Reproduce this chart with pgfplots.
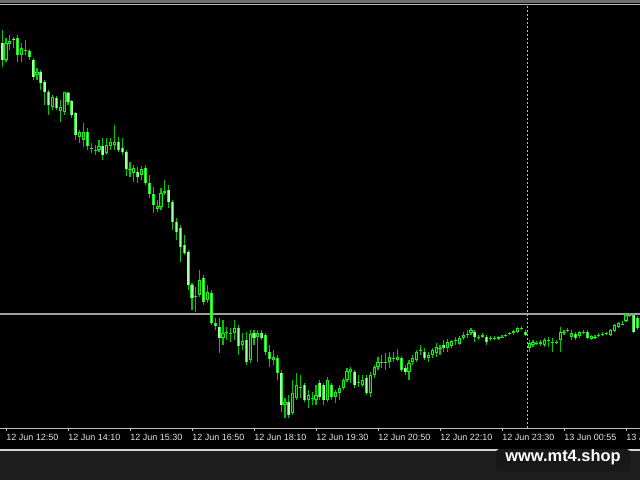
\documentclass[border=0pt]{standalone}
\usepackage{pgfplots}
\pgfplotsset{compat=1.18}
\usepackage{pgfplotstable}
\usepackage{fontspec}
\setmainfont{Liberation Sans}
\definecolor{wick}{RGB}{0,200,0}
\definecolor{limeg}{RGB}{20,240,20}
\definecolor{bearfill}{RGB}{165,255,165}
\definecolor{bullin}{RGB}{0,60,0}
\definecolor{panel}{RGB}{30,30,30}
\definecolor{topgrey}{RGB}{110,110,110}
\definecolor{lgrey}{RGB}{190,190,190}
\definecolor{lline}{RGB}{212,212,212}
\definecolor{boxc}{RGB}{24,24,24}
\definecolor{pline}{RGB}{160,160,160}

% i = 5-minute bar index (0 = 12 Jun 12:50); o,h,l,c in pixel rows of the screenshot (smaller = higher)
\pgfplotstableread{
i o h l c
-1 43 30 67 60
0 60 38 62 43
1 44 35 50 41
2 39 37 48 40
3 38 35 62 55
4 55 43 62 48
5 50 40 55 50.5
6 51 49 60 57
7 60 58 80 77
8 75 68 80 72
9 72 70 90 83
10 82 80 105 92
11 92 90 115 105
12 107 95 110 97
13 98 96 110 108
14 111 100 122 107
15 112 92 115 92
16 93 92 105 102
17 101 100 118 115
18 113 112 140 135
19 137 130 143 132
20 140 123 147 132
21 132 128 150 146
22 148 143 153 148.5
23 150 145 155 150.5
24 150 140 152 146
25 146 138 160 155
26 153 138 155 145
27 146 138 150 142
28 145 125 150 142
29 142 137 152 150
30 148 138 155 152
31 152 150 176 169
32 169 162 177 169.5
33 173 165 182 168
34 172 167 183 177
35 175 166 180 169
36 168 165 185 183
37 183 175 198 194
38 194 187 213 205
39 209 200 212 206
40 207 188 210 193
41 193 180 195 191
42 190 185 208 202
43 202 200 230 222
44 222 218 240 232
45 228 225 262 247
46 245 235 255 253
47 252 250 290 285
48 285 283 310 298
49 296 287 312 296.5
50 295 270 297 280
51 278 275 305 302
52 300 285 303 292
53 293 290 325 323
54 323 318 330 326
55 327 318 353 338
56 338 320 345 333
57 332 327 340 332.5
58 333 328 342 333.5
59 333 320 340 328
60 328 325 355 346
61 345 333 350 341
62 340 332 365 362
63 360 330 363 334
64 333 330 345 338
65 337 330 362 333
66 333 330 340 338
67 335 333 355 352
68 352 345 367 359
69 360 350 365 357
70 358 355 380 373
71 373 370 412 405
72 405 398 418 402
73 402 395 418 415
74 413 380 415 393
75 398 373 400 385
76 387 375 398 387.5
77 385 383 402 400
78 400 390 408 395
79 398 392 405 398.5
80 400 385 405 395
81 383 380 400 397
82 385 383 405 400
83 400 377 402 380
84 385 383 400 397
85 397 390 403 392
86 393 385 400 388
87 388 378 390 380
88 380 368 382 371
89 372 367 383 369
90 372 370 388 385
91 382 375 387 382.5
92 385 375 387 380
93 378 375 395 393
94 393 372 397 375
95 375 365 378 367
96 367 357 370 362
97 362 355 368 362.5
98 362 353 370 362.5
99 362 352 368 357
100 358 352 362 358.5
101 360 349 361 357
102 358 356 372 370
103 368 365 375 372
104 372 360 380 363
105 362 355 365 358
106 360 350 362 352
107 350 345 355 350.5
108 352 348 360 358
109 358 352 362 355
110 355 348 358 350
111 353 343 357 347
112 348 345 355 348.5
113 345 340 352 348
114 348 339 352 342
115 346 340 348 341
116 340 337 345 340.5
117 344 336 345 338
118 338 332 340 335
119 334 330 338 334.5
120 333 328 335 330
121 332 330 342 337
122 337 335 340 337.5
123 337 333 338 335
124 337 335 345 342
125 338 336 341 338.5
126 338 336 340 338.5
127 339 336 340 337
128 337 335 338 337.5
129 335.5 334 337 335
130 333.5 332 335 333
131 333 330 335 331
132 332 327 333 328
133 328 326 330 328.5
134 332 330 336 335
135 348 340 352 343
136 345 340 347 342
137 343 341 345 343.5
138 344 340 346 342
139 345 338 347 340
140 340 337 347 340.5
141 342 338 352 342.5
142 342 340 344 342.5
143 340 327 352 332
144 332 330 335 332.5
145 330 328 332 330.5
146 337 330 340 333
147 334 332 340 338
148 336 331 338 332
149 332 330 334 332.5
150 332 330 339 338
151 339 335 340 336
152 337.5 335 339 337
153 335 333 337 335.5
154 334 332 336 334.5
155 333.5 332 335 333
156 335 329 336 330
157 331 324 332 325
158 327 322 328 323
159 324 321 325 323.5
160 321 314 322 315
161 315.5 313 317 315
162 315 313 333 332
163 318 316 330 328
}\candles

\begin{document}
\begin{tikzpicture}[x=1pt,y=1pt]
\useasboundingbox (0,-26) rectangle (320,214);
\clip (0,-26) rectangle (320,214);
\fill[panel] (0,-26) rectangle (320,214);
\fill[black] (0,-10.5) rectangle (320,212.5);
\fill[topgrey] (0,212.5) rectangle (320,214);
\fill[lgrey] (0,211.5) rectangle (320,212);
\fill[lline] (0,-11.5) rectangle (320,-10.5);
\begin{axis}[
  at={(0,0)}, anchor=south west,
  scale only axis, width=320pt, height=211pt,
  xmin=-1.5484, xmax=163.6129, ymin=52, ymax=474,
  axis x line*=bottom, axis y line=none,
  x axis line style={draw=lgrey, line width=0.5pt},
  xtick={0,16,32,48,64,80,96,112,128,144,160},
  xticklabels={12 Jun 12:50,12 Jun 14:10,12 Jun 15:30,12 Jun 16:50,12 Jun 18:10,12 Jun 19:30,12 Jun 20:50,12 Jun 22:10,12 Jun 23:30,13 Jun 00:55,13 Jun 02:15},
  tick align=outside, major tick length=1.5pt,
  xtick style={draw=lgrey, line width=0.5pt},
  xticklabel style={anchor=west, inner sep=0pt, text=white!90!black,
    font=\fontsize{4.5}{5}\selectfont, yshift=-3.2pt},
  ytick=\empty,
  clip=true,
]
\draw[pline, line width=0.6pt] (axis cs:-3,166) -- (axis cs:170,166);
\draw[lgrey, line width=0.5pt, dash pattern=on 1pt off 1pt] (axis cs:134.45,52) -- (axis cs:134.45,474);
% wicks
\addplot[draw=wick, line width=0.55pt, -, mark=none,
  quiver={u=0, v={\thisrow{l}-\thisrow{h}}}]
  table[x=i, y expr={480-\thisrow{l}}] {\candles};
% bodies (outline colour)
\addplot[draw=limeg, line width=1.6pt, -, mark=none,
  quiver={u=0, v={max(abs(\thisrow{o}-\thisrow{c}),0.7)}}]
  table[x=i, y expr={480-max(\thisrow{o},\thisrow{c})-0.35}] {\candles};
% bear bodies filled light
\addplot[draw=bearfill, line width=0.75pt, -, mark=none,
  restrict expr to domain={\thisrow{c}-\thisrow{o}}{0:1000},
  quiver={u=0, v={max(abs(\thisrow{o}-\thisrow{c})-0.8,0)}}]
  table[x=i, y expr={480-max(\thisrow{o},\thisrow{c})+0.4}] {\candles};
% bull bodies hollow
\addplot[draw=bullin, line width=0.6pt, -, mark=none,
  restrict expr to domain={\thisrow{o}-\thisrow{c}}{0.01:1000},
  quiver={u=0, v={max(abs(\thisrow{o}-\thisrow{c})-2,0)}}]
  table[x=i, y expr={480-max(\thisrow{o},\thisrow{c})+1}] {\candles};
\end{axis}
\fill[boxc, rounded corners=1.5pt] (248,-10.6) rectangle (315,-21.5);
\node[text=white, font=\bfseries\fontsize{8.2}{9}\selectfont, inner sep=0pt] at (281.5,-14.8) {www.mt4.shop};
\end{tikzpicture}
\end{document}
